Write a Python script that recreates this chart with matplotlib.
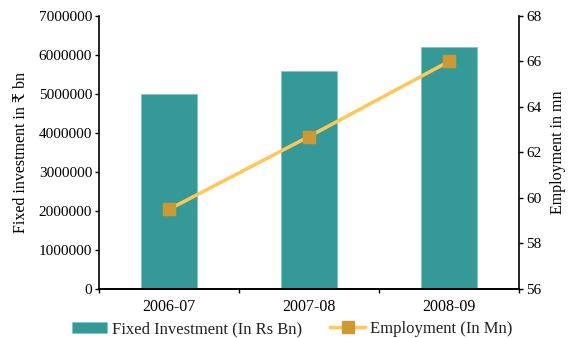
import matplotlib.pyplot as plt
import numpy as np

# chart data
years = ['2006-07', '2007-08', '2008-09']
fixed_investment = [5000000, 5590000, 6210000]
employment = [59.5, 62.7, 66.0]

plt.rcParams['font.family'] = ['Liberation Serif', 'DejaVu Serif', 'DejaVu Sans']
plt.rcParams['font.size'] = 11
plt.rcParams['text.color'] = '#222222'

fig = plt.figure(figsize=(5.71, 3.38), dpi=100)
ax = fig.add_axes([0.1734, 0.145, 0.7356, 0.808])
x = np.arange(len(years))

bars = ax.bar(x, fixed_investment, width=0.4, color='#359A97', edgecolor='#7CC9C4',
              linewidth=0.6, label='Fixed Investment (In Rs Bn)', zorder=2)
ax.set_xlim(-0.5, 2.5)
ax.set_ylim(0, 7000000)
ax.set_yticks(np.arange(0, 7000001, 1000000))
ax.set_yticklabels([str(v) for v in range(0, 7000001, 1000000)], fontsize=11)
ax.set_xticks(x)
ax.set_xticklabels(years, fontsize=11.5)
ax.set_xticks([-0.5, 0.5, 1.5, 2.5], minor=True)
ax.tick_params(axis='x', which='major', length=0, pad=7)
ax.tick_params(axis='x', which='minor', length=3, direction='out', width=1)
ax.tick_params(axis='y', length=3, width=1, pad=2)
ax.set_ylabel('Fixed investment in \u20b9 bn', labelpad=7, fontsize=11.5)
ax.spines['top'].set_visible(False)
ax.spines['right'].set_visible(False)

ax2 = ax.twinx()
line, = ax2.plot(x, employment, color='#FFC65A', linewidth=2.5, marker='s',
                 markersize=9, markerfacecolor='#CC9933', markeredgecolor='#CC9933',
                 label='Employment (In Mn)', zorder=3)
ax2.set_ylim(56, 68)
ax2.set_yticks(np.arange(56, 69, 2))
ax2.tick_params(axis='y', length=3, width=1, pad=2, labelsize=11)
ax2.set_ylabel('Employment in mn', labelpad=6, fontsize=11.5)
ax2.spines['top'].set_visible(False)
ax2.spines['left'].set_visible(False)
for a in (ax, ax2):
    for s in a.spines.values():
        s.set_linewidth(1.2)

fig.legend([bars, line], ['Fixed Investment (In Rs Bn)', 'Employment (In Mn)'],
           loc='center', bbox_to_anchor=(0.512, 0.026), ncol=2, frameon=False,
           handlelength=2.1, columnspacing=1.7, handletextpad=0.3, fontsize=12)

fig.savefig('out.png', dpi=100)
